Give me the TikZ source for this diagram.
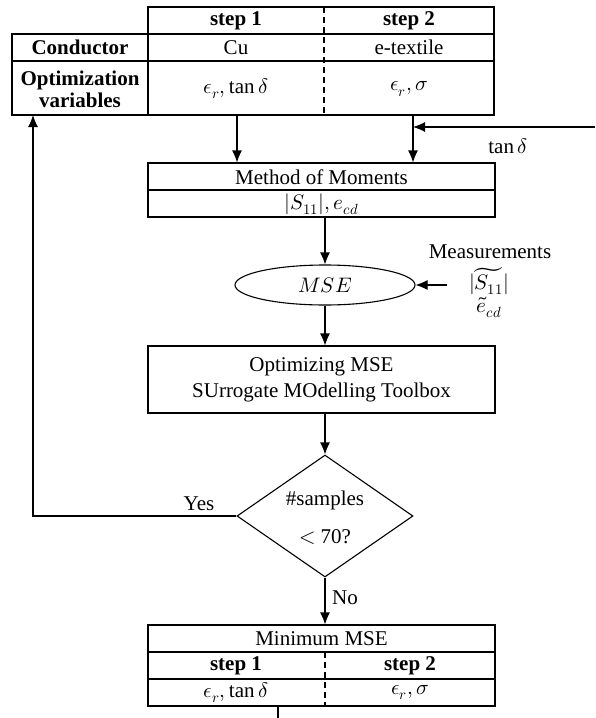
\documentclass[tikz,border=0pt]{standalone}
\usepackage{fontspec}
\usepackage{unicode-math}
\setmainfont{Liberation Serif}
\setmathfont{Latin Modern Math}
\usetikzlibrary{shapes.geometric,arrows.meta,calc}
\tikzset{
  txt/.style={inner sep=0pt, align=center, font=\fontsize{21}{22}\selectfont},
  btxt/.style={inner sep=0pt, align=center, font=\fontsize{21}{22}\selectfont\bfseries},
  box/.style={draw, minimum width=347pt, inner sep=0pt},
  divider/.style={dash pattern=on 6pt off 4pt},
}
\begin{document}
\begin{tikzpicture}[x=1pt,y=-1pt, line width=1.1pt,
  >={Latex[length=12pt,width=10pt]}]
\useasboundingbox (0,0) rectangle (595,718);

% ---- top table ----
\draw (12,34) rectangle (494,115);
\draw (148,7) rectangle (494,34);
\draw (12,61) -- (494,61);
\draw (148,34) -- (148,115);
\draw[divider] (324,7) -- (324,115);

\node[btxt] (h1) at (236,21) {step 1};
\node[btxt] (h2) at (409,21) {step 2};
\node[btxt] (c0) at (80,47.5) {Conductor};
\node[txt]  (c1) at (236,47.5) {Cu};
\node[txt]  (c2) at (409,47.5) {e-textile};
\node[btxt] (o0) at (80,89) {Optimization\\variables};
\node[txt]  (o1) at (236,89) {$\epsilon_r, \tan\delta$};
\node[txt]  (o2) at (409,89) {$\epsilon_r, \sigma$};

\coordinate (t1) at (237,115);
\coordinate (t2) at (413,115);
\coordinate (fb) at (33,115);
\coordinate (tanin) at (595,127);

% ---- Method of Moments ----
\node[box, minimum height=54pt] (mom) at (321.5,190) {};
\draw (mom.west) -- (mom.east);
\node[txt] (momt) at (321.5,177) {Method of Moments};
\node[txt] (moms) at (321.5,204) {$|S_{11}|, e_{cd}$};

\draw[->] (t1) -- (t1 |- mom.north);
\draw[->] (t2) -- (t2 |- mom.north);
\draw[->] (tanin) -- (tanin -| t2);
\node[txt] (tanlbl) at (508,146) {$\tan\delta$};

% ---- MSE ----
\node[draw, ellipse, minimum width=180pt, minimum height=40pt, inner sep=0pt,
      font=\fontsize{21}{22}\selectfont] (mse) at (325,285) {$MSE$};
\draw[->] (mse |- mom.south) -- (mse.north);

\node[txt] (meas) at (490,252) {Measurements};
\node[txt] (ms11) at (489,281) {$|\widetilde{S_{11}}|$};
\node[txt] (mecd) at (489,307) {$\widetilde{e}_{cd}$};
\coordinate (min) at (447,285);
\draw[->] (min) -- (mse.east);

% ---- Optimizing ----
\node[box, minimum height=67pt, align=center, font=\fontsize{21}{26}\selectfont]
  (opt) at (321.5,379.5) {Optimizing MSE\\SUrrogate MOdelling Toolbox};
\draw[->] (mse.south) -- (mse.south |- opt.north);

% ---- decision ----
\node[draw, diamond, minimum width=176pt, minimum height=122pt, inner sep=0pt]
  (dec) at (325,516) {};
\node[txt] (dect1) at (325,500) {\#samples};
\node[txt] (dect2) at (325,537) {$<$ 70?};
\draw[->] (dec.north |- opt.south) -- (dec.north);

\draw[->] (dec.west) -- (dec.west -| fb) -- (fb);
\node[txt] (yes) at (199,504) {Yes};

% ---- Minimum MSE ----
\node[box, minimum height=81pt] (minbox) at (321.5,665.5) {};
\draw (148,652) -- (495,652);
\draw (148,679) -- (495,679);
\draw[divider] (325,652) -- (325,706);
\node[txt]  (mint) at (321.5,638.5) {Minimum MSE};
\node[btxt] (ms1) at (236,665.5) {step 1};
\node[btxt] (ms2) at (410,665.5) {step 2};
\node[txt]  (mv1) at (236,692.5) {$\epsilon_r, \tan\delta$};
\node[txt]  (mv2) at (410,692.5) {$\epsilon_r, \sigma$};

\draw[->] (dec.south) -- (dec.south |- minbox.north);
\node[txt] (no) at (345,598) {No};

\coordinate (out) at (278,718);
\draw (out |- minbox.south) -- (out);
\end{tikzpicture}
\end{document}
